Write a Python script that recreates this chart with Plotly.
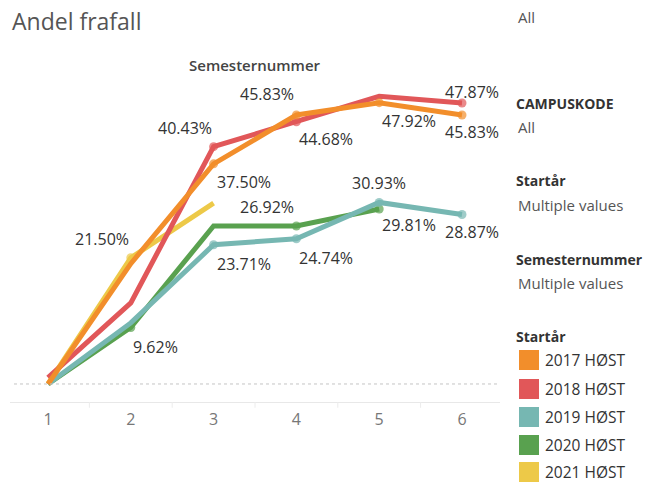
import plotly.graph_objects as go

# ---------------- data ----------------
semesters = [1, 2, 3, 4, 5, 6]
tick_labels = ["1", "2", "3", "4", "5", "6"]
series_names = ["2017 HØST", "2018 HØST", "2019 HØST", "2020 HØST", "2021 HØST"]
v2017 = [0.0, 0.205, 0.3750, 0.4583, 0.4792, 0.4583]
v2018 = [0.011, 0.138, 0.4043, 0.4468, 0.490, 0.4787]
v2019 = [0.0, 0.104, 0.2371, 0.2474, 0.3093, 0.2887]
v2020 = [0.0, 0.0962, 0.2692, 0.2692, 0.2981, None]
v2021 = [0.0, 0.2150, 0.308, None, None, None]
colors = ["#F28E2B", "#E15759", "#76B7B2", "#59A14F", "#EDC948"]
values = [v2017, v2018, v2019, v2020, v2021]

# labels shown: (series index, point index, xanchor, xshift, yshift)
labels = [
    (1, 2, "right", 0, 19), (0, 2, "left", 1, -18),
    (0, 3, "right", 0, 21), (1, 3, "left", 1, -17),
    (0, 4, "left", 1, -18), (1, 5, "center", 10, 11),
    (0, 5, "center", 10, -17), (2, 4, "center", 0, 19),
    (3, 4, "left", 1, -16), (2, 5, "center", 10, -17),
    (3, 3, "right", 0, 19), (2, 2, "left", 1, -19),
    (2, 3, "left", 1, -19), (4, 1, "right", 0, 19),
    (3, 1, "left", 0, -19),
]

FONT = "Open Sans"
W, H = 659, 483
# plot area in reference pixels: x 10..500, y 40..402
ml, mr, mt, mb = 10, 659 - 500, 40, 483 - 402


def px_x(x):
    return (x - ml) / (W - ml - mr)


def px_y(y):
    return (H - mb - y) / (H - mt - mb)


fig = go.Figure()

labeled = {(s, p) for s, p, *_ in labels}
# draw order: yellow, green, teal, red, orange (orange on top)
for s in [4, 3, 2, 1, 0]:
    vals = values[s]
    sizes = [9 if (s, i) in labeled else 0 for i in range(len(vals))]
    fig.add_trace(go.Scatter(
        x=semesters, y=vals, mode="lines+markers", name=series_names[s],
        line=dict(color=colors[s], width=5),
        marker=dict(color=colors[s], size=sizes, line=dict(width=0)),
        connectgaps=False, showlegend=False, hoverinfo="skip"))

annotations = []
for s, p, xa, xs, ys in labels:
    v = values[s][p]
    annotations.append(dict(
        x=semesters[p], y=v, xref="x", yref="y", text=f"{v*100:.2f}%",
        showarrow=False, xanchor=xa, yanchor="middle", xshift=xs, yshift=ys,
        font=dict(family=FONT, size=16, color="#333333")))

annotations.append(dict(x=px_x(11), y=px_y(21), xref="paper", yref="paper", text="Andel frafall",
                        showarrow=False, xanchor="left", yanchor="middle", borderpad=0,
                        font=dict(family=FONT, size=23, color="#555555")))
annotations.append(dict(x=px_x(255), y=px_y(65), xref="paper", yref="paper", text="Semesternummer",
                        showarrow=False, xanchor="center", yanchor="middle",
                        font=dict(family=FONT, size=15, color="#444444", weight=600)))

side = [
    ("All", 17, False, 516),
    ("CAMPUSKODE", 103, True, 514),
    ("All", 127, False, 516),
    ("Startår", 181, True, 514),
    ("Multiple values", 205, False, 516),
    ("Semesternummer", 259, True, 514),
    ("Multiple values", 283, False, 516),
    ("Startår", 336, True, 514),
]
for txt, y, bold, x in side:
    annotations.append(dict(
        x=px_x(x), y=px_y(y), xref="paper", yref="paper",
        text=f"<b>{txt}</b>" if bold else txt, showarrow=False,
        xanchor="left", yanchor="middle",
        font=dict(family=FONT, size=14 if bold else 15, color="#333333" if bold else "#555555")))

shapes = []
leg_y = [360, 389, 417, 445, 472]
for i, name in enumerate(series_names):
    y = leg_y[i]
    shapes.append(dict(type="rect", xref="paper", yref="paper",
                       x0=px_x(519), x1=px_x(539), y0=px_y(y - 10), y1=px_y(y + 10),
                       fillcolor=colors[i], line=dict(width=0)))
    annotations.append(dict(
        x=px_x(544), y=px_y(y), xref="paper", yref="paper", text=name,
        showarrow=False, xanchor="left", yanchor="middle", borderpad=0,
        font=dict(family=FONT, size=15.5, color="#333333")))

# dotted zero line
shapes.append(dict(type="line", xref="paper", yref="y", x0=px_x(14), x1=1, y0=0, y1=0,
                   line=dict(color="#c4c4c4", width=1, dash="dot")))
# band separator ticks
for b in [1.5, 2.5, 3.5, 4.5, 5.5]:
    shapes.append(dict(type="line", xref="x", yref="paper", x0=b, x1=b, y0=0, y1=-0.016,
                       line=dict(color="#ececec", width=1)))

fig.update_layout(
    width=W, height=H,
    margin=dict(l=ml, r=mr, t=mt, b=mb, pad=0),
    paper_bgcolor="white", plot_bgcolor="white",
    annotations=annotations, shapes=shapes, showlegend=False,
    hovermode=False,
    xaxis=dict(range=[0.541, 6.459], tickvals=semesters, ticktext=tick_labels,
               showgrid=False, zeroline=False, showline=True, linecolor="#e8e8e8",
               linewidth=1, ticks="", ticklabelstandoff=3, fixedrange=True,
               tickfont=dict(family=FONT, size=16, color="#777777")),
    yaxis=dict(range=[-0.0307, 0.586], visible=False, showgrid=False, zeroline=False,
               fixedrange=True),
)

fig.write_html("out.html", config={"displayModeBar": False},
               post_script="document.body.style.margin='0';document.body.style.overflow='hidden';")
